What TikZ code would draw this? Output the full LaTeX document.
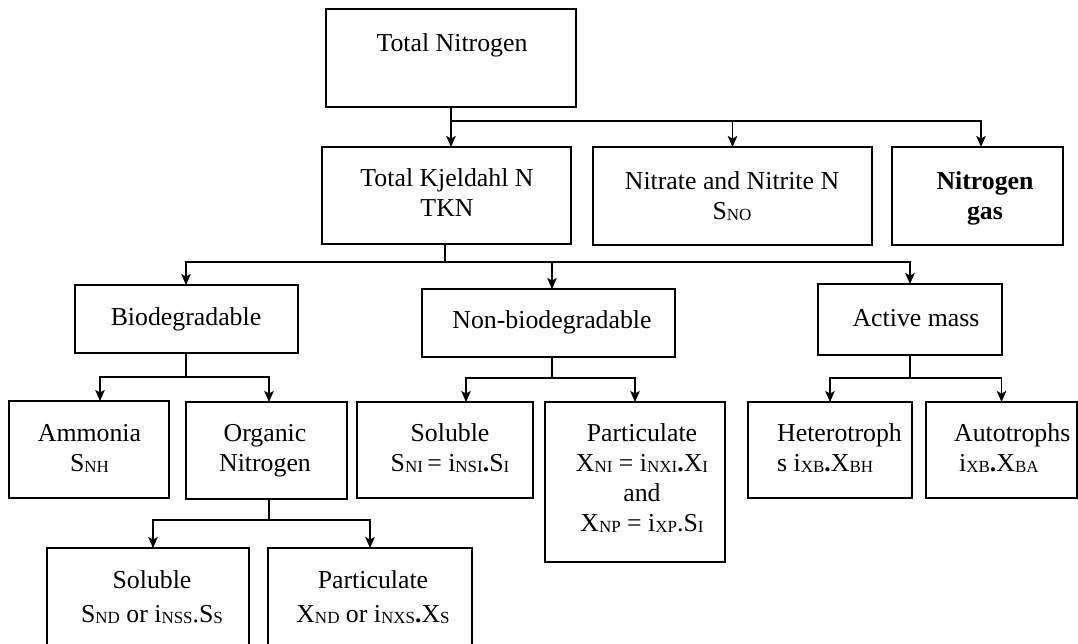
\documentclass[tikz,border=0pt]{standalone}
\usepackage{fontspec}
\setmainfont{Liberation Serif}
\usetikzlibrary{arrows.meta,calc}
% subscript letters, set small and slightly lowered
\newcommand\sbx[1]{\raisebox{-1pt}{\fontsize{17}{17}\selectfont #1}}
\newcommand\bdot{{\bfseries .}}
\begin{document}
\begin{tikzpicture}[x=1pt,y=-1pt,
  box/.style={draw, line width=1.8pt, inner sep=0pt, outer sep=0pt},
  txt/.style={font=\fontsize{25.8}{30}\selectfont, align=center, inner sep=0pt},
  arr/.style={line width=1.5pt, -{Stealth[length=11pt,width=9.5pt,inset=2.5pt]}},
]
\clip (0,0) rectangle (1078,643);

% ---- boxes ----
\node[box, minimum width=250, minimum height=98] (tn)   at (451,58) {};
\node[box, minimum width=249, minimum height=97] (tkn)  at (446.5,195.5) {};
\node[box, minimum width=279, minimum height=98] (nit)  at (732.5,196) {};
\node[box, minimum width=171, minimum height=98] (gas)  at (977.5,196) {};
\node[box, minimum width=223, minimum height=68] (bio)  at (186.5,319) {};
\node[box, minimum width=253, minimum height=68] (nonb) at (548.5,323) {};
\node[box, minimum width=184, minimum height=71] (act)  at (910,319.5) {};
\node[box, minimum width=160, minimum height=97] (amm)  at (89,449.5) {};
\node[box, minimum width=161, minimum height=97] (org)  at (266.5,450.5) {};
\node[box, minimum width=176, minimum height=96] (solI) at (445,450) {};
\node[box, minimum width=180, minimum height=160] (parI) at (635,482) {};
\node[box, minimum width=164, minimum height=96] (het)  at (830,450) {};
\node[box, minimum width=151, minimum height=96] (aut)  at (1001.5,450) {};
\node[box, minimum width=202, minimum height=132] (solD) at (148,614) {};
\node[box, minimum width=204, minimum height=132] (parD) at (370,614) {};

% ---- labels ----
\node[txt] (tn-t)   at (452,45.5)  {\strut Total Nitrogen};
\node[txt] (tkn-t)  at (447,195.5) {\strut Total Kjeldahl N\\\strut TKN};
\node[txt] (nit-t)  at (732,198.5) {\strut Nitrate and Nitrite N\\\strut S\sbx{NO}};
\node[txt, font=\fontsize{25.8}{30}\selectfont\bfseries] (gas-t) at (985,198.5) {\strut Nitrogen\\\strut gas};
\node[txt] (bio-t)  at (186,319.5) {\strut Biodegradable};
\node[txt] (nonb-t) at (552,322.5) {\strut Non-biodegradable};
\node[txt] (act-t)  at (916,320.5) {\strut Active mass};
\node[txt] (amm-t)  at (89.5,450)  {\strut Ammonia\\\strut S\sbx{NH}};
\node[txt] (org-t)  at (265,450)   {\strut Organic\\\strut Nitrogen};
\node[txt] (solI-t) at (450,450.5) {\strut Soluble\\\strut S\sbx{NI}\,= i\sbx{NSI}\bdot S\sbx{I}};
\node[txt] (parI-t) at (642,480)   {\strut Particulate\\\strut X\sbx{NI} = i\sbx{NXI}\bdot X\sbx{I}\\\strut and\\\strut X\sbx{NP} = i\sbx{XP}.S\sbx{I}};
\node[txt, align=left, anchor=west] (het-t) at (777,450.5) {\strut Heterotroph\\\strut s i\sbx{XB}\bdot X\sbx{BH}};
\node[txt, align=left, anchor=west] (aut-t) at (954,450.5) {\strut Autotrophs\\\strut\hspace{5pt}i\sbx{XB}\bdot X\sbx{BA}};
\node[txt] (solD-t) at (152,599.5) {\strut Soluble\\[4pt]\strut S\sbx{ND} or i\sbx{NSS}.S\sbx{S}};
\node[txt] (parD-t) at (373,599.5) {\strut Particulate\\[4pt]\strut X\sbx{ND} or i\sbx{NXS}\bdot X\sbx{S}};

% ---- connectors ----
\draw[arr] (tn.south) -- (tn.south |- tkn.north);
\draw[arr] (tn.south) -- ++(0,14) -| (nit.north);
\draw[arr] (tn.south) -- ++(0,14) -| ($(gas.north)+(3.5,0)$);

\draw[arr] ($(tkn.south)+(-1.5,0)$) -- ++(0,18) -| ($(bio.north)+(-0.5,0)$);
\draw[arr] ($(tkn.south)+(-1.5,0)$) -- ++(0,18) -| ($(nonb.north)+(3.5,0)$);
\draw[arr] ($(tkn.south)+(-1.5,0)$) -- ++(0,18) -| (act.north);

\draw[arr] ($(bio.south)+(-0.5,0)$) -- ++(0,24) -| ($(amm.north)+(11,0)$);
\draw[arr] ($(bio.south)+(-0.5,0)$) -- ++(0,24) -| ($(org.north)+(2.5,0)$);

\draw[arr] ($(org.south)+(2.5,0)$) -- ++(0,21) -| ($(solD.north)+(5,0)$);
\draw[arr] ($(org.south)+(2.5,0)$) -- ++(0,21) -| (parD.north);

\draw[arr] ($(nonb.south)+(3.5,0)$) -- ++(0,21) -| ($(solI.north)+(21,0)$);
\draw[arr] ($(nonb.south)+(3.5,0)$) -- ++(0,21) -| (parI.north);

\draw[arr] (act.south) -- ++(0,23) -| (het.north);
\draw[arr] (act.south) -- ++(0,23) -| (aut.north);
\end{tikzpicture}
\end{document}
